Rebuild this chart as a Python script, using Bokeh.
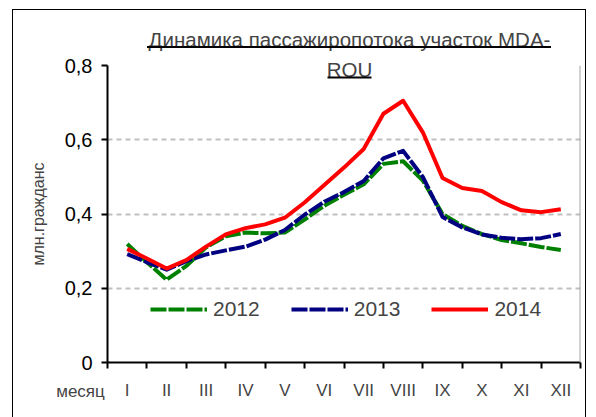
from bokeh.plotting import figure
from bokeh.models import (FixedTicker, CustomJSTickFormatter, Label, BoxAnnotation,
                          Span, Legend, LegendItem, InlineStyleSheet)
from bokeh.embed import file_html
from bokeh.resources import INLINE

# positions along the month axis (half-month steps), month I = 1 ... XII = 12
months = [1, 1.5, 2, 2.5, 3, 3.5, 4, 4.5, 5, 5.5, 6, 6.5, 7, 7.5, 8, 8.5,
          9, 9.5, 10, 10.5, 11, 11.5, 12]
month_labels = ["I", "II", "III", "IV", "V", "VI", "VII", "VIII", "IX", "X", "XI", "XII"]
month_ticks = [1, 2, 3, 4, 5, 6, 7, 8, 9, 10, 11, 12]
month_bounds = [0.5, 1.5, 2.5, 3.5, 4.5, 5.5, 6.5, 7.5, 8.5, 9.5, 10.5, 11.5, 12.5]

v2012 = [0.319, 0.270, 0.223, 0.260, 0.310, 0.340, 0.350, 0.348, 0.350, 0.385, 0.422,
         0.452, 0.480, 0.535, 0.542, 0.490, 0.400, 0.368, 0.346, 0.330, 0.321, 0.311, 0.303]
v2013 = [0.292, 0.270, 0.250, 0.273, 0.291, 0.302, 0.312, 0.331, 0.357, 0.398, 0.433,
         0.459, 0.489, 0.550, 0.570, 0.500, 0.392, 0.364, 0.345, 0.336, 0.332, 0.335, 0.346]
v2014 = [0.306, 0.280, 0.253, 0.276, 0.312, 0.345, 0.362, 0.372, 0.390, 0.431, 0.478,
         0.525, 0.575, 0.670, 0.705, 0.620, 0.497, 0.470, 0.462, 0.432, 0.410, 0.405, 0.413]
y_ticks = [0, 0.2, 0.4, 0.6, 0.8]
grid_ticks = [0.2, 0.4, 0.6, 0.8]

FONT = "Liberation Sans"

p = figure(width=596, height=417, output_backend="svg", toolbar_location=None,
           x_range=(0.5, 12.5), y_range=(0, 0.8),
           min_border_left=107, min_border_right=16, min_border_top=61, min_border_bottom=55)
p.background_fill_color = "white"
p.border_fill_color = "white"
p.outline_line_color = None

p.xgrid.visible = False
p.ygrid.ticker = FixedTicker(ticks=grid_ticks)
p.ygrid.grid_line_color = "#BFBFBF"
p.ygrid.grid_line_width = 2
p.ygrid.grid_line_dash = "5 4"

yax = p.yaxis[0]
yax.ticker = FixedTicker(ticks=y_ticks)
yax.formatter = CustomJSTickFormatter(code="return tick == 0 ? '0' : tick.toFixed(1).replace('.', ',');")
yax.major_label_text_font = FONT
yax.major_label_text_font_size = "20px"
yax.major_label_text_color = "black"
yax.major_label_standoff = 9
yax.axis_line_width = 2
yax.axis_line_color = "black"
yax.major_tick_out = 6
yax.major_tick_in = 0
yax.major_tick_line_width = 2
yax.minor_tick_line_color = None
yax.axis_label = "млн.гражданс"
yax.axis_label_text_font = FONT
yax.axis_label_text_font_style = "normal"
yax.axis_label_text_font_size = "16px"
yax.axis_label_standoff = 15

xax = p.xaxis[0]
xax.ticker = FixedTicker(ticks=month_ticks, minor_ticks=month_bounds)
xax.formatter = CustomJSTickFormatter(args=dict(labels=month_labels),
                                      code="return labels[Math.round(tick) - 1] || '';")
xax.major_label_text_font = FONT
xax.major_label_text_font_size = "17px"
xax.major_label_standoff = 12
xax.major_tick_out = 0
xax.major_tick_in = 0
xax.minor_tick_out = 6
xax.minor_tick_in = 0
xax.minor_tick_line_width = 2
xax.minor_tick_line_color = "black"
xax.axis_line_width = 2
xax.axis_line_color = "black"

p.add_layout(Span(location=12.5, dimension="height", line_color="#A6A6A6", line_width=2))

r1 = p.line(months, v2012, line_color="#008000", line_width=4, line_dash="16 2", line_join="round")
r2 = p.line(months, v2013, line_color="#000080", line_width=4, line_dash="16 2", line_join="round")
r3 = p.line(months, v2014, line_color="#FF0000", line_width=4, line_join="round")

legend = Legend(items=[LegendItem(label="2012", renderers=[r1]),
                       LegendItem(label="2013", renderers=[r2]),
                       LegendItem(label="2014", renderers=[r3])],
                orientation="horizontal", location=(43, 41),
                glyph_width=57, glyph_height=20, label_standoff=6, spacing=31,
                padding=0, margin=0, border_line_color=None, background_fill_alpha=0,
                label_text_font=FONT, label_text_font_size="21px")
p.add_layout(legend)

# title (two lines, underlined) -- labels in a side panel so they are not clipped
p.add_layout(Label(x=349, y=39, x_units="canvas", y_units="canvas",
                   text="Динамика пассажиропотока участок MDA-", text_align="center",
                   text_baseline="alphabetic", text_font=FONT, text_font_size="20.5px"), "above")
p.add_layout(Label(x=349, y=69, x_units="canvas", y_units="canvas",
                   text="ROU", text_align="center",
                   text_baseline="alphabetic", text_font=FONT, text_font_size="20.5px"), "above")
# underline of "ROU" (inside the plot frame)
p.add_layout(BoxAnnotation(left=327, right=371, top=76, bottom=78,
                           left_units="canvas", right_units="canvas",
                           top_units="canvas", bottom_units="canvas",
                           fill_color="black", fill_alpha=1, line_color=None))

p.add_layout(Label(x=80, y=391, x_units="canvas", y_units="canvas", text="месяц",
                   text_align="center", text_baseline="alphabetic", text_font=FONT,
                   text_font_size="17px"), "above")

# outer chart border and underline of the first title line (drawn outside the frame)
css = """
:host { position: relative; }
:host::before { content: ""; position: absolute; left: 147px; top: 46px; width: 404px;
  height: 2px; background: black; z-index: 100; pointer-events: none; }
:host::after { content: ""; position: absolute; left: 12px; top: 9px; width: 574px;
  height: 408px; border: 1.5px solid black; border-bottom: none; box-sizing: border-box;
  z-index: 100; pointer-events: none; }
"""
p.stylesheets = [InlineStyleSheet(css=css)]

open("out.html", "w").write(file_html(p, INLINE))
